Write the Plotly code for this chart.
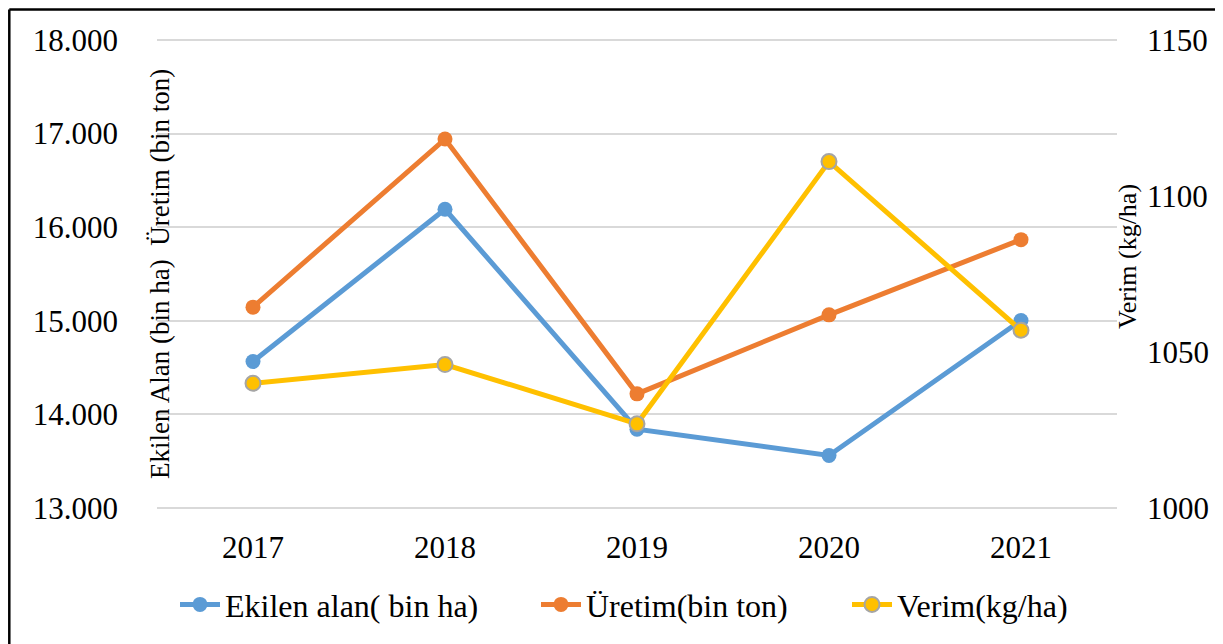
import plotly.graph_objects as go

years = ["2017", "2018", "2019", "2020", "2021"]
ekilen_alan = [14565, 16191, 13843, 13562, 15004]   # bin ha
uretim = [15146, 16941, 14220, 15064, 15867]        # bin ton
verim = [1040, 1046, 1027, 1111, 1057]              # kg/ha

left_ticks = [13000, 14000, 15000, 16000, 17000, 18000]
right_ticks = [1000, 1050, 1100, 1150]

FONT = "Liberation Serif, Times New Roman, serif"
BLUE = "#5B9BD5"
ORANGE = "#ED7D31"
YELLOW = "#FFC000"
GRAY = "#A5A5A5"

OFF = 8  # page body margin
W, H = 1223 - OFF, 644 - OFF
ML, MT = 157 - OFF, 38 - OFF
PW, PH = 960, 474
MR = W - ML - PW
MB = H - MT - PH


def px_x(p):
    # reference screenshot pixel -> paper fraction
    return (p - OFF - ML) / PW


def px_y(p):
    return (MT + PH - (p - OFF)) / PH


# tiny range padding so the edge gridlines (13.000 / 18.000) are drawn
PADL = 20
PADR = PADL * 150 / 5000

fig = go.Figure()
fig.add_trace(go.Scatter(
    x=years, y=ekilen_alan, name="Ekilen alan( bin ha)", mode="lines+markers",
    line=dict(color=BLUE, width=5), marker=dict(size=15, color=BLUE), legend="legend"))
fig.add_trace(go.Scatter(
    x=years, y=uretim, name="Üretim(bin ton)", mode="lines+markers",
    line=dict(color=ORANGE, width=5), marker=dict(size=15, color=ORANGE), legend="legend2"))
fig.add_trace(go.Scatter(
    x=years, y=verim, name="Verim(kg/ha)", mode="lines+markers", yaxis="y2",
    line=dict(color=YELLOW, width=5),
    marker=dict(size=15, color=YELLOW, line=dict(color=GRAY, width=2)), legend="legend3"))

leg_common = dict(orientation="h", xanchor="left", yanchor="middle", y=px_y(607),
                  font=dict(size=32, family=FONT), bgcolor="rgba(0,0,0,0)", itemwidth=40)

fig.update_layout(
    width=W, height=H,
    margin=dict(l=ML, r=MR, t=MT, b=MB, pad=0),
    paper_bgcolor="white", plot_bgcolor="white",
    separators=",.",
    font=dict(family=FONT, color="black", size=31),
    xaxis=dict(type="category", range=[-0.5, 4.5], showgrid=False, zeroline=False,
               showline=False, ticks="", ticklabelstandoff=16,
               tickfont=dict(size=31)),
    yaxis=dict(range=[13000 - PADL, 18000 + PADL], tickvals=left_ticks, tickformat=",.0f",
               showgrid=True, gridcolor="#D9D9D9", gridwidth=1.5, zeroline=False,
               showline=False, ticks="", ticklabelstandoff=38,
               tickfont=dict(size=31)),
    yaxis2=dict(range=[1000 - PADR, 1150 + PADR], tickvals=right_ticks, overlaying="y",
                side="right", showgrid=False, zeroline=False, showline=False, ticks="",
                ticklabelstandoff=29, tickfont=dict(size=31)),
    legend=dict(x=px_x(175), **leg_common),
    legend2=dict(x=px_x(536), **leg_common),
    legend3=dict(x=px_x(847), **leg_common),
    showlegend=True,
)

fig.add_annotation(text="Ekilen Alan (bin ha)  Üretim (bin ton)", textangle=-90,
                   xref="paper", yref="paper", x=px_x(160), y=px_y(275),
                   xanchor="center", yanchor="middle", showarrow=False,
                   font=dict(size=27, family=FONT))
fig.add_annotation(text="Verim (kg/ha)", textangle=-90,
                   xref="paper", yref="paper", x=px_x(1127), y=px_y(258),
                   xanchor="center", yanchor="middle", showarrow=False,
                   font=dict(size=26, family=FONT))

# outer frame (left and top edges visible)
fx = (1.3 - ML) / PW
fy = (MT + PH - 1.3) / PH
fig.add_shape(type="line", xref="paper", yref="paper", x0=fx, x1=fx,
              y0=-0.5, y1=fy, line=dict(color="black", width=2.5))
fig.add_shape(type="line", xref="paper", yref="paper", x0=fx, x1=(W + 5 - ML) / PW,
              y0=fy, y1=fy, line=dict(color="black", width=2.5))

fig.write_html("out.html")
